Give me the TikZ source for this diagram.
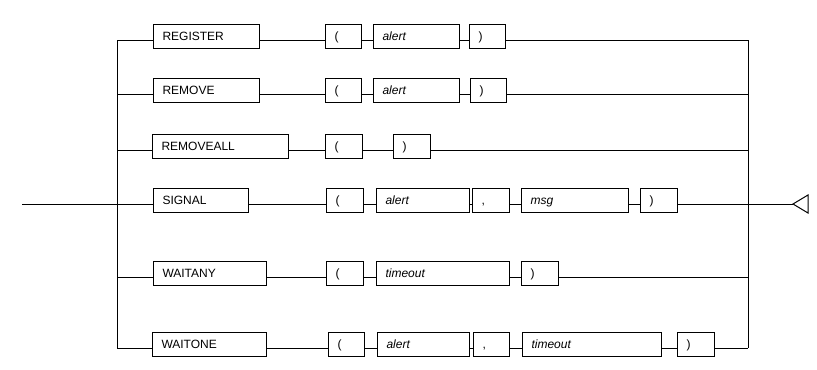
\documentclass[tikz,border=0pt]{standalone}
\usepackage{fontspec}
\setmainfont{Liberation Sans}

\begin{document}
\begin{tikzpicture}[x=0.75pt,y=-0.75pt,
  font=\fontsize{9pt}{11pt}\selectfont,line width=.75pt,
  term/.style={rectangle,draw=black,anchor=base west,align=left,inner xsep=6.75pt,text height=6.75pt,text depth=1.5pt,minimum height=18pt,text width=#1},
  term/.default=13.5pt,
  arg/.style={term=#1,font=\fontsize{9pt}{11pt}\selectfont\itshape}
]
\useasboundingbox (0,0) rectangle (817,369);
% rails: entry, the two vertical bars and the exit marker
\coordinate (start) at (22,204);
\coordinate (stop) at (793,204);
\coordinate (ltop) at (117,40);
\coordinate (lbot) at (117,348);
\coordinate (rtop) at (748,40);
\coordinate (rbot) at (748,348);
\draw (ltop) -- (lbot);
\draw (rtop) -- (rbot);
% REGISTER ( alert )
\node[term=66pt] (register) at (153,40) {REGISTER};
\node[term] (lpar1) at (325,40) {(};
\node[arg=51pt] (alert1) at (373,40) {alert};
\node[term] (rpar1) at (469,40) {)};
% REMOVE ( alert )
\node[term=66pt] (remove) at (153,94) {REMOVE};
\node[term] (lpar2) at (325,94) {(};
\node[arg=51pt] (alert2) at (373,94) {alert};
\node[term] (rpar2) at (470,94) {)};
% REMOVEALL ( )
\node[term=88.5pt] (removeall) at (152,150) {REMOVEALL};
\node[term=14.25pt] (lpar3) at (325,150) {(};
\node[term=14.25pt] (rpar3) at (393,150) {)};
% SIGNAL ( alert , msg )
\node[term=57.75pt] (signal) at (153,204) {SIGNAL};
\node[term=14.25pt] (lpar4) at (326,204) {(};
\node[arg=56.25pt] (alert4) at (376,204) {alert};
\node[term=14.25pt] (comma4) at (472,204) {,};
\node[arg=66.75pt] (msg) at (521,204) {msg};
\node[term=14.25pt] (rpar4) at (640,204) {)};
% WAITANY ( timeout )
\node[term=71.25pt] (waitany) at (153,277) {WAITANY};
\node[term=14.25pt] (lpar5) at (326,277) {(};
\node[arg=86.25pt] (timeout5) at (376,277) {timeout};
\node[term=14.25pt] (rpar5) at (521,277) {)};
% WAITONE ( alert , timeout )
\node[term=72pt] (waitone) at (152,348) {WAITONE};
\node[term] (lpar6) at (328,348) {(};
\node[arg=55.5pt] (alert6) at (377,348) {alert};
\node[term] (comma6) at (473,348) {,};
\node[arg=90.75pt] (timeout6) at (522,348) {timeout};
\node[term=14.25pt] (rpar6) at (677,348) {)};
% connections
\draw (ltop) -- (register.base west);
\draw (register.base east) -- (lpar1.base west);
\draw (lpar1.base east) -- (alert1.base west);
\draw (alert1.base east) -- (rpar1.base west);
\draw (rpar1.base east) -- (rtop);
\draw (ltop |- remove.base) -- (remove.base west);
\draw (remove.base east) -- (lpar2.base west);
\draw (lpar2.base east) -- (alert2.base west);
\draw (alert2.base east) -- (rpar2.base west);
\draw (rpar2.base east) -- (rtop |- rpar2.base);
\draw (ltop |- removeall.base) -- (removeall.base west);
\draw (removeall.base east) -- (lpar3.base west);
\draw (lpar3.base east) -- (rpar3.base west);
\draw (rpar3.base east) -- (rtop |- rpar3.base);
\draw (start) -- (signal.base west);
\draw (signal.base east) -- (lpar4.base west);
\draw (lpar4.base east) -- (alert4.base west);
\draw (alert4.base east) -- (comma4.base west);
\draw (comma4.base east) -- (msg.base west);
\draw (msg.base east) -- (rpar4.base west);
\draw (rpar4.base east) -- (stop);
\draw (ltop |- waitany.base) -- (waitany.base west);
\draw (waitany.base east) -- (lpar5.base west);
\draw (lpar5.base east) -- (timeout5.base west);
\draw (timeout5.base east) -- (rpar5.base west);
\draw (rpar5.base east) -- (rtop |- rpar5.base);
\draw (lbot) -- (waitone.base west);
\draw (waitone.base east) -- (lpar6.base west);
\draw (lpar6.base east) -- (alert6.base west);
\draw (alert6.base east) -- (comma6.base west);
\draw (comma6.base east) -- (timeout6.base west);
\draw (timeout6.base east) -- (rpar6.base west);
\draw (rpar6.base east) -- (rbot);
\draw (stop) -- ++(15,-9) -- ++(0,18) -- cycle;
\end{tikzpicture}
\end{document}
